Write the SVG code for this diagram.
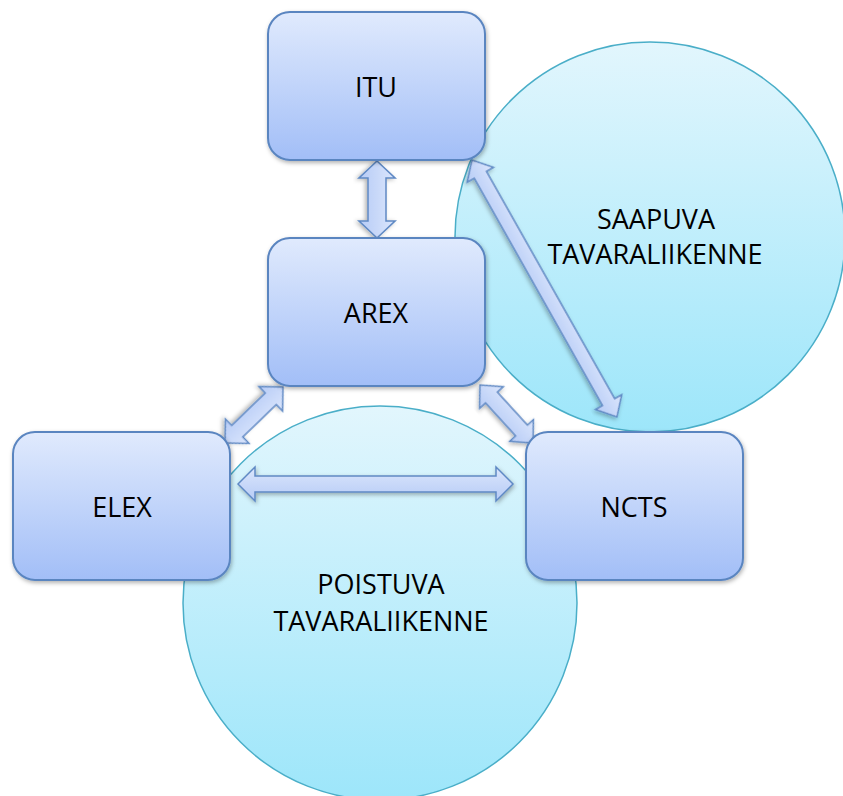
<svg xmlns="http://www.w3.org/2000/svg" width="843" height="796" viewBox="0 0 843 796">
<defs>
<linearGradient id="gBox" x1="0" y1="0" x2="0" y2="1">
<stop offset="0" stop-color="#e0eafd"/>
<stop offset="1" stop-color="#a2bef7"/>
</linearGradient>
<linearGradient id="gCirc" x1="0" y1="0" x2="0" y2="1">
<stop offset="0" stop-color="#e2f6fd"/>
<stop offset="1" stop-color="#9de6fa"/>
</linearGradient>
<linearGradient id="gArr" x1="0" y1="0" x2="0" y2="1">
<stop offset="0" stop-color="#dbe6fc"/>
<stop offset="1" stop-color="#b6cbf6"/>
</linearGradient>
<filter id="sh" x="-10%" y="-10%" width="125%" height="125%">
<feDropShadow dx="1" dy="2" stdDeviation="2" flood-color="#000" flood-opacity="0.3"/>
</filter>
</defs>
<style>
.box{fill:url(#gBox);stroke:#5a85c0;stroke-width:2;filter:url(#sh)}
.circ{fill:url(#gCirc);stroke:#4aaec8;stroke-width:1.5}
.arr{fill:url(#gArr);stroke:#5f89c4;stroke-width:1.5;stroke-linejoin:miter;filter:url(#sh)}
.t{font-family:"Open Sans","Liberation Sans",sans-serif;font-size:27px;fill:#000;text-anchor:middle}
</style>
<g id="saapuva">
<circle class="circ" cx="650" cy="237" r="195"/>
<text class="t" x="656" y="229">SAAPUVA</text>
<text class="t" x="655" y="264">TAVARALIIKENNE</text>
</g>
<g id="poistuva">
<circle class="circ" cx="380" cy="603" r="197"/>
<text class="t" x="381" y="594">POISTUVA</text>
<text class="t" x="381" y="631">TAVARALIIKENNE</text>
</g>
<g id="connectors">
<path class="arr" transform="translate(377,161) rotate(90)" d="M0,0 L17,-18 L17,-9 L60,-9 L60,-18 L77,0 L60,18 L60,9 L17,9 L17,18 Z"/>
<path class="arr" transform="translate(238,484)" d="M0,0 L17,-17 L17,-8 L258,-8 L258,-17 L275,0 L258,17 L258,8 L17,8 L17,17 Z"/>
<path class="arr" transform="translate(283,387) rotate(136)" d="M0,0 L17,-17 L17,-8 L63.6,-8 L63.6,-17 L80.6,0 L63.6,17 L63.6,8 L17,8 L17,17 Z"/>
<path class="arr" transform="translate(480,385) rotate(47.6)" d="M0,0 L17,-16 L17,-8 L61.6,-8 L61.6,-16 L78.6,0 L61.6,16 L61.6,8 L17,8 L17,16 Z"/>
<path class="arr" transform="translate(472,160) rotate(60.57)" d="M0,0 L17,-15 L17,-7 L278,-7 L278,-15 L295,0 L278,15 L278,7 L17,7 L17,15 Z"/>
</g>
<g id="itu">
<rect class="box" x="268" y="12" width="217" height="148" rx="22"/>
<text class="t" x="376" y="97">ITU</text>
</g>
<g id="arex">
<rect class="box" x="268" y="238" width="217" height="148" rx="22"/>
<text class="t" x="376" y="323">AREX</text>
</g>
<g id="elex">
<rect class="box" x="13" y="432" width="217" height="148" rx="22"/>
<text class="t" x="122" y="517">ELEX</text>
</g>
<g id="ncts">
<rect class="box" x="526" y="432" width="217" height="148" rx="22"/>
<text class="t" x="634" y="517">NCTS</text>
</g>
</svg>
